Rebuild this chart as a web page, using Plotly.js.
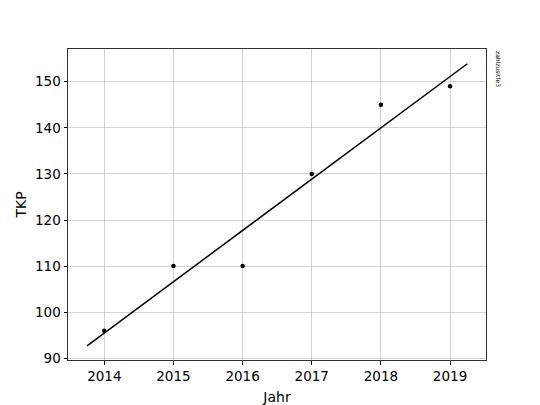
<!DOCTYPE html>
<html>
<head>
<meta charset="utf-8">
<script src="https://cdn.plot.ly/plotly-3.0.1.min.js"></script>
<style>
  html, body { margin: 0; padding: 0; background: #fff; }
  #chart { width: 540px; height: 405px; }
</style>
</head>
<body>
<div id="chart"></div>
<script>
// measured values
const years = [2014, 2015, 2016, 2017, 2018, 2019];
const tkp = [96, 110, 110, 130, 145, 149];

// fitted line, end points
const fitYears = [2013.75, 2019.25];
const fitTkp = [92.7, 153.9];

const sideNote = 'zahlzusitfe3';

const font = { family: 'DejaVu Sans, sans-serif', size: 13.5, color: '#000' };
const titleFont = { family: 'DejaVu Sans, sans-serif', size: 14, color: '#000' };

Plotly.newPlot('chart', [
  {
    x: fitYears,
    y: fitTkp,
    type: 'scatter',
    mode: 'lines',
    line: { color: '#000', width: 1.5 },
    hoverinfo: 'skip'
  },
  {
    x: years,
    y: tkp,
    type: 'scatter',
    mode: 'markers',
    marker: { color: '#000', size: 4.5 }
  }
], {
  width: 540,
  height: 405,
  showlegend: false,
  paper_bgcolor: '#fff',
  plot_bgcolor: '#fff',
  font: font,
  margin: { l: 68, r: 54, t: 49, b: 45 },
  xaxis: {
    range: [2013.475, 2019.52],
    tickvals: years,
    ticktext: years.map(String),
    ticks: 'outside',
    ticklen: 3.5,
    tickcolor: '#000',
    showgrid: true,
    gridcolor: '#c8c8c8',
    gridwidth: 0.8,
    zeroline: false,
    showline: true,
    mirror: true,
    linecolor: '#333',
    linewidth: 1,
    title: { text: 'Jahr', font: titleFont, standoff: 9 }
  },
  yaxis: {
    range: [89.63, 157.1],
    tickvals: [90, 100, 110, 120, 130, 140, 150],
    ticks: 'outside',
    ticklen: 3.5,
    tickcolor: '#000',
    showgrid: true,
    gridcolor: '#c8c8c8',
    gridwidth: 0.8,
    zeroline: false,
    showline: true,
    mirror: true,
    linecolor: '#333',
    linewidth: 1,
    title: { text: 'TKP', font: titleFont, standoff: 5 }
  },
  annotations: [{
    text: sideNote,
    xref: 'paper', yref: 'paper',
    x: 1.018, y: 1.0,
    xanchor: 'left', yanchor: 'top',
    textangle: 90,
    showarrow: false,
    font: { family: 'DejaVu Sans, sans-serif', size: 6, color: '#000' }
  }]
}, { displayModeBar: false, staticPlot: true });
</script>
</body>
</html>
